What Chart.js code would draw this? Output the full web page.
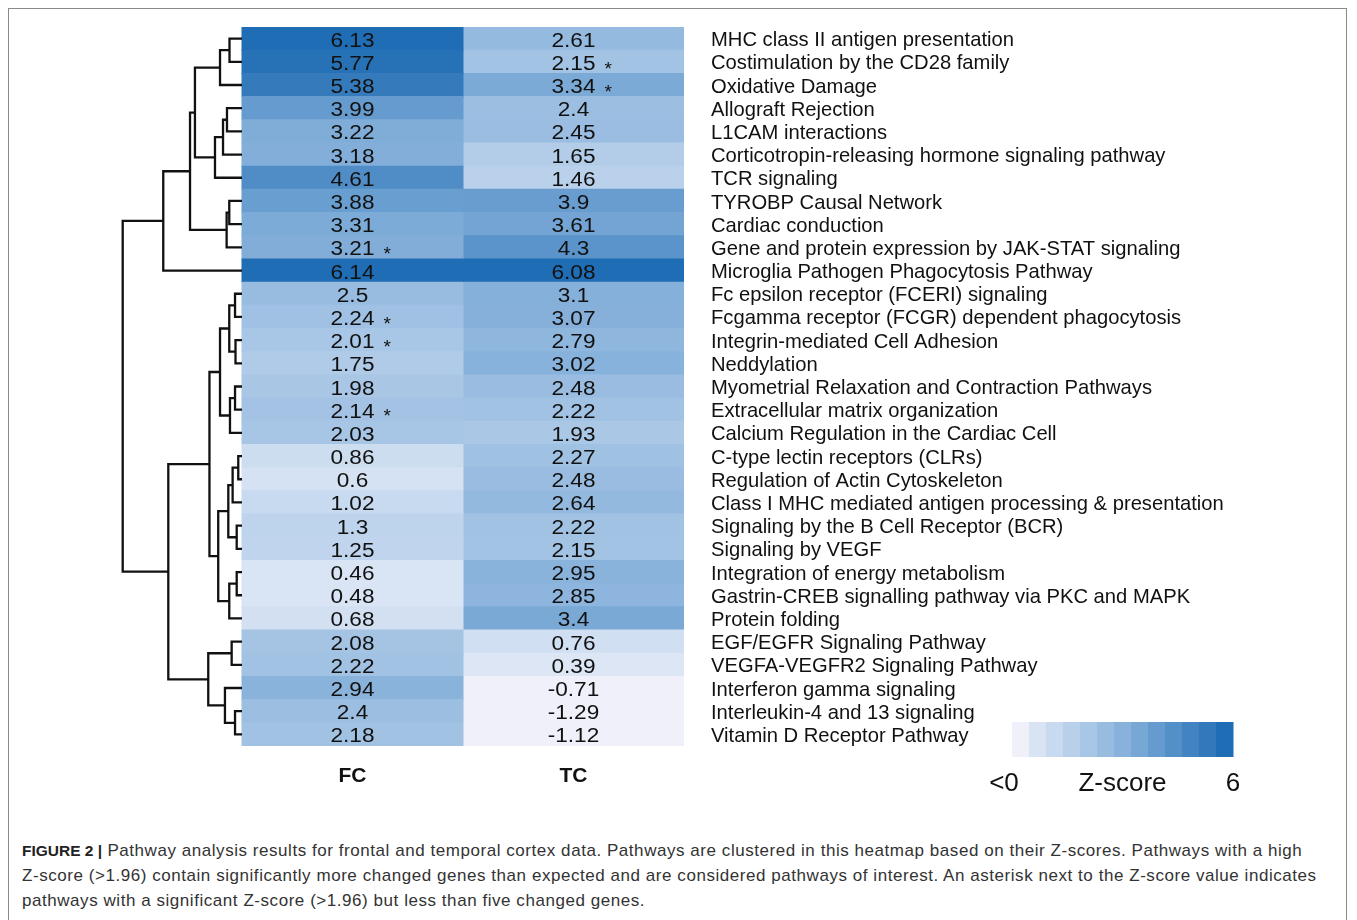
<!DOCTYPE html>
<html>
<head>
<meta charset="utf-8">
<script src="https://cdn.jsdelivr.net/npm/chart.js@4"></script>
<style>
  html, body { margin: 0; padding: 0; background: #fff; }
  #wrap { position: relative; width: 1357px; height: 920px; overflow: hidden; }
  #frame { position: absolute; left: 8px; top: 8px; width: 1337px; height: 1000px;
           border: 1px solid #8a8a8a; border-bottom: none; }
  #c { position: absolute; left: 0; top: 0; }
  #caption { position: absolute; left: 22px; top: 838px; white-space: nowrap;
             font-family: "Liberation Sans", Arial, sans-serif; font-size: 17px;
             letter-spacing: 0.55px; line-height: 25px; color: #333; }
  #caption b { color: #222; font-size: 15.5px; letter-spacing: 0; }
</style>
</head>
<body>
<div id="wrap">
  <div id="frame"></div>
  <canvas id="c" width="1357" height="800" style="width:1357px;height:800px"></canvas>
  <div id="caption"><b>FIGURE 2 |</b> Pathway analysis results for frontal and temporal cortex data. Pathways are clustered in this heatmap based on their Z-scores. Pathways with a high<br>Z-score (&gt;1.96) contain significantly more changed genes than expected and are considered pathways of interest. An asterisk next to the Z-score value indicates<br>pathways with a significant Z-score (&gt;1.96) but less than five changed genes.</div>
</div>
<script>
// ---------- DATA ----------
const pathways = [
  "MHC class II antigen presentation",
  "Costimulation by the CD28 family",
  "Oxidative Damage",
  "Allograft Rejection",
  "L1CAM interactions",
  "Corticotropin-releasing hormone signaling pathway",
  "TCR signaling",
  "TYROBP Causal Network",
  "Cardiac conduction",
  "Gene and protein expression by JAK-STAT signaling",
  "Microglia Pathogen Phagocytosis Pathway",
  "Fc epsilon receptor (FCERI) signaling",
  "Fcgamma receptor (FCGR) dependent phagocytosis",
  "Integrin-mediated Cell Adhesion",
  "Neddylation",
  "Myometrial Relaxation and Contraction Pathways",
  "Extracellular matrix organization",
  "Calcium Regulation in the Cardiac Cell",
  "C-type lectin receptors (CLRs)",
  "Regulation of Actin Cytoskeleton",
  "Class I MHC mediated antigen processing & presentation",
  "Signaling by the B Cell Receptor (BCR)",
  "Signaling by VEGF",
  "Integration of energy metabolism",
  "Gastrin-CREB signalling pathway via PKC and MAPK",
  "Protein folding",
  "EGF/EGFR Signaling Pathway",
  "VEGFA-VEGFR2 Signaling Pathway",
  "Interferon gamma signaling",
  "Interleukin-4 and 13 signaling",
  "Vitamin D Receptor Pathway"
];
const columns = ["FC", "TC"];
const fcValues = [6.13, 5.77, 5.38, 3.99, 3.22, 3.18, 4.61, 3.88, 3.31, 3.21, 6.14,
  2.5, 2.24, 2.01, 1.75, 1.98, 2.14, 2.03, 0.86, 0.6, 1.02, 1.3, 1.25, 0.46, 0.48, 0.68,
  2.08, 2.22, 2.94, 2.4, 2.18];
const tcValues = [2.61, 2.15, 3.34, 2.4, 2.45, 1.65, 1.46, 3.9, 3.61, 4.3, 6.08,
  3.1, 3.07, 2.79, 3.02, 2.48, 2.22, 1.93, 2.27, 2.48, 2.64, 2.22, 2.15, 2.95, 2.85, 3.4,
  0.76, 0.39, -0.71, -1.29, -1.12];
const fcStarRows = [9, 12, 13, 16];
const tcStarRows = [1, 2];
// Hierarchical clustering merges: [childA, childB, height]
// children < 31 are rows (leaves); children >= 31 refer to merge (id - 31)
const dendroMerges = [
  [0, 1, 1.04], [31, 2, 1.83], [3, 4, 1.25], [33, 5, 1.58], [34, 6, 2.25],
  [32, 35, 3.92], [7, 8, 1.06], [37, 9, 1.28], [36, 38, 4.33], [39, 10, 6.56],
  [11, 12, 0.58], [13, 14, 0.54], [41, 42, 1.06], [15, 16, 0.58], [44, 17, 1.0],
  [43, 45, 1.83], [18, 19, 0.31], [47, 20, 0.78], [21, 22, 0.44], [48, 49, 1.14],
  [23, 24, 0.44], [51, 25, 1.06], [50, 52, 1.98], [46, 53, 2.71], [26, 27, 0.86],
  [29, 30, 0.58], [28, 56, 1.42], [55, 57, 2.81], [54, 58, 6.14], [40, 59, 9.94]
];
const legendLabels = ["<0", "Z-score", "6"];

// ---------- helpers ----------
const N = pathways.length;
const DENDRO_SCALE = 0.0543; // heatmap-column units per unit of merge height
const NEG_COLOR = [240, 240, 250];
const STOPS = [[0, [232, 238, 249]], [3, [136, 178, 219]], [6, [31, 109, 180]]];
function colorFor(v) {
  if (v < 0) return `rgb(${NEG_COLOR.join(',')})`;
  v = Math.min(v, 6);
  for (let i = 0; i < STOPS.length - 1; i++) {
    const [a, ca] = STOPS[i], [b, cb] = STOPS[i + 1];
    if (v <= b) {
      const t = (v - a) / (b - a);
      const c = ca.map((x, k) => Math.round(x + (cb[k] - x) * t));
      return `rgb(${c.join(',')})`;
    }
  }
  return `rgb(${STOPS[STOPS.length - 1][1].join(',')})`;
}

// node positions: leaves at their row index, merges at mid of children
const nodeY = [], nodeH = [];
for (let i = 0; i < N; i++) { nodeY[i] = i; nodeH[i] = 0; }
dendroMerges.forEach((m, k) => {
  const id = N + k;
  nodeY[id] = (nodeY[m[0]] + nodeY[m[1]]) / 2;
  nodeH[id] = m[2];
});
const dendroDatasets = dendroMerges.map((m) => {
  const [a, b, h] = m;
  return {
    type: 'line',
    xAxisID: 'x', yAxisID: 'y',
    data: [
      { x: -nodeH[a] * DENDRO_SCALE, y: nodeY[a] },
      { x: -h * DENDRO_SCALE, y: nodeY[a] },
      { x: -h * DENDRO_SCALE, y: nodeY[b] },
      { x: -nodeH[b] * DENDRO_SCALE, y: nodeY[b] }
    ],
    borderColor: '#111', borderWidth: 2.3, pointRadius: 0, fill: false,
    tension: 0, borderJoinStyle: 'miter', borderCapStyle: 'butt', order: 0
  };
});

const heatDatasets = [fcValues, tcValues].map((vals, c) => ({
  type: 'bar',
  xAxisID: 'x', yAxisID: 'y',
  data: vals.map((_, i) => ({ y: i, x: [c, c + 1] })),
  backgroundColor: (ctx) => colorFor(vals[ctx.dataIndex]),
  borderWidth: 0, barPercentage: 1, categoryPercentage: 1, grouped: false,
  inflateAmount: 0.5, order: 1
}));

const textPlugin = {
  id: 'cellText',
  afterDatasetsDraw(chart) {
    const { ctx, scales } = chart;
    const xs = scales.x, ys = scales.y;
    const SX = 1.13;
    ctx.save();
    ctx.textBaseline = 'middle';
    [fcValues, tcValues].forEach((vals, c) => {
      const stars = c === 0 ? fcStarRows : tcStarRows;
      const cx = xs.getPixelForValue(c + 0.5);
      vals.forEach((v, i) => {
        const cy = ys.getPixelForValue(i);
        ctx.font = '20px "Liberation Sans", Arial, sans-serif';
        ctx.fillStyle = '#111';
        ctx.textAlign = 'center';
        const s = String(v);
        ctx.save();
        ctx.translate(cx, cy + 2.5);
        ctx.scale(SX, 1);
        ctx.fillText(s, 0, 0);
        ctx.restore();
        if (stars.includes(i)) {
          const w = ctx.measureText(s).width * SX;
          ctx.font = '19px "Liberation Sans", Arial, sans-serif';
          ctx.textAlign = 'left';
          ctx.fillText('*', cx + w / 2 + 9, cy + 7.5);
        }
      });
    });
    ctx.restore();
  }
};

const colorbarPlugin = {
  id: 'colorbar',
  afterDraw(chart) {
    const { ctx, chartArea } = chart;
    const left = chartArea.right + 328, top = chartArea.bottom - 24;
    const totalW = 221, h = 35, n = 13, w = totalW / n;
    ctx.save();
    for (let k = 0; k < n; k++) {
      const v = k === 0 ? -1 : k * 0.5;
      ctx.fillStyle = colorFor(v);
      ctx.fillRect(left + k * w, top, w + 0.5, h);
    }
    ctx.font = '26px "Liberation Sans", Arial, sans-serif';
    ctx.fillStyle = '#111';
    ctx.textAlign = 'center';
    ctx.textBaseline = 'middle';
    const ly = top + h + 27;
    ctx.fillText(legendLabels[0], left - 8, ly);
    ctx.fillText(legendLabels[1], left + totalW * 0.5, ly);
    ctx.fillText(legendLabels[2], left + totalW, ly);
    ctx.restore();
  }
};

// target plot area (heatmap + dendrogram) inside the 1357x800 canvas
const AREA = { left: 118, top: 27, right: 684, bottom: 746 };

const chart = new Chart(document.getElementById('c'), {
  type: 'bar',
  data: { datasets: [...heatDatasets, ...dendroDatasets] },
  plugins: [textPlugin, colorbarPlugin],
  options: {
    indexAxis: 'y',
    responsive: false,
    animation: false,
    devicePixelRatio: 1,
    layout: { padding: { left: AREA.left, top: AREA.top, right: 0, bottom: 0 } },
    plugins: { legend: { display: false }, tooltip: { enabled: false } },
    scales: {
      x: {
        type: 'linear', min: -0.561, max: 2, offset: false,
        grid: { display: false, drawTicks: false, offset: false }, border: { display: false },
        afterBuildTicks: (s) => { s.ticks = columns.map((_, i) => ({ value: i + 0.5 })); },
        afterFit: (s) => { s.height = 54; s.paddingLeft = 0; s.paddingRight = 0; },
        ticks: {
          autoSkip: false, maxRotation: 0, padding: 18, color: '#111',
          font: { family: '"Liberation Sans", Arial, sans-serif', size: 21, weight: 'bold' },
          callback: (v) => columns[Math.floor(v)]
        }
      },
      y: {
        type: 'linear', position: 'right', min: -0.5, max: N - 0.5, reverse: true, offset: false,
        grid: { display: false, drawTicks: false, offset: false }, border: { display: false },
        afterBuildTicks: (s) => { s.ticks = pathways.map((_, i) => ({ value: i })); },
        afterFit: (s) => { s.width = 673; s.paddingTop = 0; s.paddingBottom = 0; },
        ticks: {
          padding: 27, labelOffset: 2, color: '#111', autoSkip: false,
          font: { family: '"Liberation Sans", Arial, sans-serif', size: 20.2 },
          callback: (v) => pathways[v]
        }
      }
    }
  }
});
// nudge layout padding so the plot area lands where the figure has it
(function fitArea() {
  const ca = chart.chartArea;
  const pad = chart.options.layout.padding;
  const dTop = AREA.top - ca.top, dBottom = ca.bottom - AREA.bottom;
  const dLeft = AREA.left - ca.left, dRight = ca.right - AREA.right;
  if (Math.abs(dTop) + Math.abs(dBottom) + Math.abs(dLeft) + Math.abs(dRight) > 0.5) {
    pad.top += dTop; pad.bottom += dBottom; pad.left += dLeft; pad.right += dRight;
    chart.update();
  }
})();
</script>
</body>
</html>
